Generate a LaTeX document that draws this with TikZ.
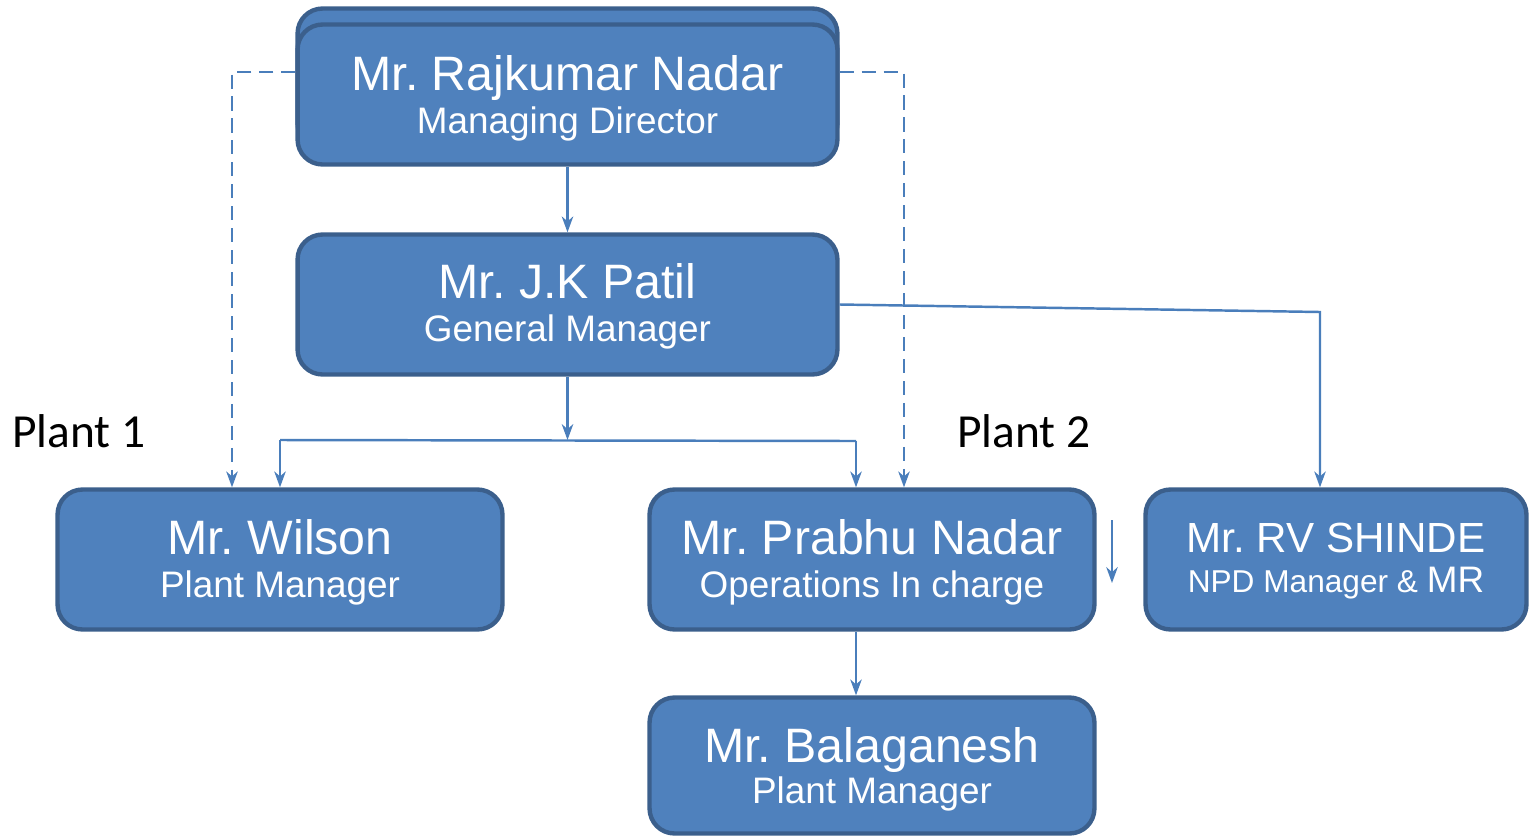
\documentclass[tikz,border=0pt]{standalone}
\usepackage{fontspec}
\setmainfont{Liberation Sans}
\newfontfamily\calibrifont{Carlito}
\usetikzlibrary{arrows.meta}
\definecolor{boxfill}{HTML}{4F81BD}
\definecolor{boxline}{HTML}{3B5F8C}
\definecolor{conncol}{HTML}{4A7EBB}
\tikzset{
  box/.style={draw=boxline, fill=boxfill, line width=2.5pt, rounded corners=0.5cm, inner sep=0pt},
  nm/.style={text=white, anchor=base, inner sep=0pt, font=\fontsize{27.5}{30}\selectfont},
  sub/.style={text=white, anchor=base, inner sep=0pt, font=\fontsize{21}{24}\selectfont},
  conn/.style={draw=conncol, line width=1.4pt, -{Stealth[length=9pt,width=6.5pt,inset=2.8pt]}},
  plainconn/.style={draw=conncol, line width=1.4pt},
  dashconn/.style={conn, dash pattern=on 8pt off 4.5pt},
  plant/.style={anchor=base west, inner sep=0pt, font=\calibrifont\fontsize{27}{30}\selectfont}
}
\begin{document}
\frenchspacing
\begin{tikzpicture}[x=0.02cm, y=-0.02cm]
\useasboundingbox (0,0) rectangle (1532,839);
% boxes
\node[box, minimum width=10.8cm, minimum height=2.8cm] (mdback) at (567.5,78.5) {};
\node[box, minimum width=10.8cm, minimum height=2.8cm] (md) at (567.5,94.5) {};
\node[box, minimum width=10.8cm, minimum height=2.8cm] (gm) at (567.5,304.5) {};
\node[box, minimum width=8.9cm, minimum height=2.8cm] (wil) at (280,559.5) {};
\node[box, minimum width=8.9cm, minimum height=2.8cm] (pra) at (872,559.5) {};
\node[box, minimum width=7.62cm, minimum height=2.8cm] (shi) at (1336,559.5) {};
\node[box, minimum width=8.9cm, minimum height=2.72cm] (bal) at (872,765.5) {};
% texts
\node[nm] (mdn) at (567.5,90) {Mr. Rajkumar Nadar};
\node[sub] (mds) at (567.5,133) {Managing Director};
\node[nm] (gmn) at (567.5,298) {Mr. J.K Patil};
\node[sub] (gms) at (567.5,341) {General Manager};
\node[nm] (wiln) at (280,554) {Mr. Wilson};
\node[sub] (wils) at (280,597) {Plant Manager};
\node[nm] (pran) at (872,554) {Mr. Prabhu Nadar};
\node[sub] (pras) at (872,597) {Operations In charge};
\node[nm, font=\fontsize{24}{28}\selectfont] (shin) at (1336,552) {Mr. RV SHINDE};
\node[text=white, anchor=base, inner sep=0pt] (shis) at (1336,592) {\fontsize{18}{22}\selectfont NPD Manager \& \fontsize{21}{24}\selectfont MR};
\node[nm] (baln) at (872,762) {Mr. Balaganesh};
\node[sub] (bals) at (872,803) {Plant Manager};
\node[plant] (p1) at (12,447) {Plant 1};
\node[plant] (p2) at (957,447) {Plant 2};
% connectors
\draw[conn] (md.south) -- (gm.north);
\coordinate (sp) at (567.5,440);
\draw[conn] (gm.south) -- (sp);
\coordinate (wl) at (280,440);
\coordinate (pr) at (856,441);
\draw[plainconn] (wl) -- (pr);
\draw[conn] (wl) -- (wil.north);
\draw[conn] (pr) -- (pr |- pra.north);
\coordinate (sh) at (1320,312);
\draw[conn] (gm.east) -- (sh) -- (sh |- shi.north);
\coordinate (dl) at (232,72);
\coordinate (dr) at (904,72);
\draw[dashconn] (md.west |- dl) -- (dl) -- (dl |- wil.north);
\draw[dashconn] (md.east |- dr) -- (dr) -- (dr |- pra.north);
\coordinate (pb) at (856,0);
\draw[conn] (pb |- pra.south) -- (pb |- bal.north);
\coordinate (fa1) at (1112,520);
\coordinate (fa2) at (1112,583);
\draw[conn] (fa1) -- (fa2);
\end{tikzpicture}
\end{document}
